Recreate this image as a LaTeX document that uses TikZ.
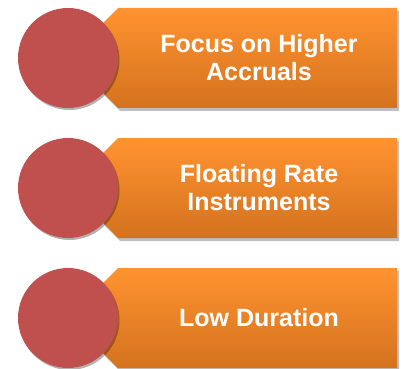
\documentclass[tikz,border=0pt]{standalone}
\usepackage{fontspec}
\setsansfont{Liberation Sans}
\usetikzlibrary{shadows}
\definecolor{orangetop}{HTML}{FF9330}
\definecolor{orangebot}{HTML}{D4721E}
\definecolor{circred}{HTML}{C0504D}
\begin{document}
\begin{tikzpicture}[x=1pt,y=-1pt,
  boxshape/.style={top color=orangetop,bottom color=orangebot,
     drop shadow={shadow xshift=2pt,shadow yshift=-3pt,opacity=0.25,fill=black}},
  disc/.style={circle,fill=circred,minimum size=100pt,inner sep=0pt,
     drop shadow={shadow xshift=1.5pt,shadow yshift=-2pt,opacity=0.3,fill=black}},
  lbl/.style={text=white,font=\sffamily\bfseries\fontsize{25}{28}\selectfont,align=center}]
\useasboundingbox (0,0) rectangle (402,369);
\foreach \i/\t [count=\k] in {0/{Focus on Higher\\Accruals},130/{Floating Rate\\Instruments},260/{Low Duration}}{
  \path[boxshape] (118,8+\i) -- (397,8+\i) -- (397,108+\i) -- (118,108+\i) -- (103,93+\i) -- (103,23+\i) -- cycle;
  \node[disc] (c\k) at (68,58+\i) {};
  \node[lbl] (t\k) at (259,58+\i) {\t};
}
\end{tikzpicture}
\end{document}
